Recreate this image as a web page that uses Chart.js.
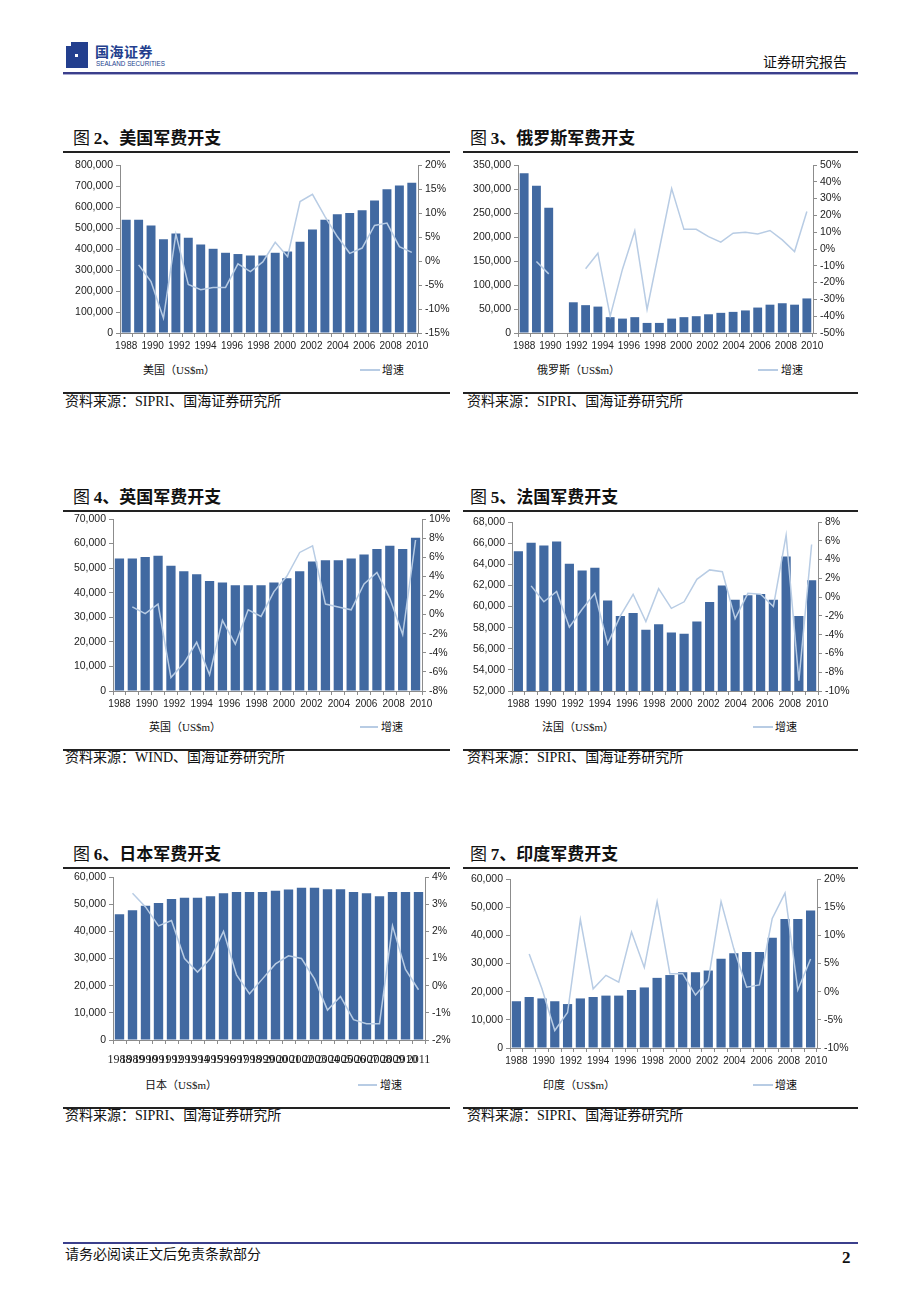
<!DOCTYPE html>
<html>
<head>
<meta charset="utf-8">
<script src="https://cdn.jsdelivr.net/npm/chart.js@4.4.1/dist/chart.umd.min.js"></script>
<style>
  html,body{margin:0;padding:0;background:#fff;}
  body{width:920px;height:1300px;position:relative;overflow:hidden;font-family:"Noto Sans CJK SC",sans-serif;color:#111;}
  .abs{position:absolute;white-space:nowrap;}
  .hline{position:absolute;height:2px;background:#222;}
  .title{font-size:17px;height:22px;line-height:22px;}
  .title b{font-weight:700;}
  .title .num{font-family:"Liberation Serif",serif;font-weight:700;}
  .src{font-family:"Liberation Serif","Noto Sans CJK SC",serif;font-size:14px;height:18px;line-height:18px;}
  .leg{font-family:"Liberation Serif","Noto Sans CJK SC",serif;font-size:11px;height:14px;line-height:14px;}
  .sw{position:absolute;height:2px;background:#b8cce4;}
  .box{position:absolute;}
</style>
</head>
<body>
<!-- header -->
<div class="abs" style="left:66px;top:42px;width:22px;height:26px;background:#233f8e;"></div>
<div class="abs" style="left:66px;top:42px;width:5px;height:4px;background:#fff;"></div>
<div class="abs" style="left:75px;top:54px;width:3px;height:3px;background:#fff;"></div>
<div class="abs" style="left:95px;top:42px;font-size:14px;font-weight:700;color:#233f8e;line-height:18px;letter-spacing:0.5px;">国海证券</div>
<div class="abs" style="left:96px;top:60px;font-family:'Liberation Sans',sans-serif;font-size:6.3px;color:#233f8e;line-height:8px;">SEALAND SECURITIES</div>
<div class="abs" style="left:763px;top:52px;font-size:14px;line-height:18px;">证券研究报告</div>
<div class="abs" style="left:63px;top:72px;width:795px;height:2px;background:#3b3f8c;"></div>
<div class="abs" style="left:63px;top:74px;width:795px;height:1px;background:#a9abd0;"></div>

<!-- footer -->
<div class="abs" style="left:63px;top:1242px;width:795px;height:2px;background:#3b3f8c;"></div>
<div class="abs" style="left:65px;top:1244px;font-size:14px;line-height:18px;">请务必阅读正文后免责条款部分</div>
<div class="abs" style="left:842px;top:1248px;font-family:'Liberation Serif',serif;font-size:17px;font-weight:700;line-height:20px;">2</div>

<!-- row 1 -->
<div class="abs title" style="left:73px;top:126px;">图 <b class="num">2</b><b>、美国军费开支</b></div>
<div class="hline" style="left:63px;top:151px;width:387px;"></div>
<div class="abs title" style="left:470px;top:126px;">图 <b class="num">3</b><b>、俄罗斯军费开支</b></div>
<div class="hline" style="left:463px;top:151px;width:395px;"></div>
<div class="box" style="left:63px;top:155px;width:388px;height:201px;"><canvas id="c-us"></canvas></div>
<div class="box" style="left:463px;top:155px;width:395px;height:201px;"><canvas id="c-ru"></canvas></div>
<div class="abs leg" style="left:143px;top:363px;">美国（US$m）</div>
<div class="sw" style="left:360px;top:369px;width:20px;"></div>
<div class="abs leg" style="left:382px;top:363px;">增速</div>
<div class="abs leg" style="left:537px;top:363px;">俄罗斯（US$m）</div>
<div class="sw" style="left:758px;top:369px;width:20px;"></div>
<div class="abs leg" style="left:781px;top:363px;">增速</div>
<div class="hline" style="left:63px;top:392px;width:387px;"></div>
<div class="hline" style="left:463px;top:392px;width:395px;"></div>
<div class="abs src" style="left:65px;top:393px;">资料来源：SIPRI、国海证券研究所</div>
<div class="abs src" style="left:467px;top:393px;">资料来源：SIPRI、国海证券研究所</div>

<!-- row 2 -->
<div class="abs title" style="left:73px;top:485px;">图 <b class="num">4</b><b>、英国军费开支</b></div>
<div class="hline" style="left:63px;top:510px;width:387px;"></div>
<div class="abs title" style="left:470px;top:485px;">图 <b class="num">5</b><b>、法国军费开支</b></div>
<div class="hline" style="left:463px;top:510px;width:395px;"></div>
<div class="box" style="left:63px;top:509px;width:388px;height:205px;"><canvas id="c-uk"></canvas></div>
<div class="box" style="left:463px;top:512px;width:395px;height:202px;"><canvas id="c-fr"></canvas></div>
<div class="abs leg" style="left:149px;top:720px;">英国（US$m）</div>
<div class="sw" style="left:360px;top:726px;width:18px;"></div>
<div class="abs leg" style="left:381px;top:720px;">增速</div>
<div class="abs leg" style="left:542px;top:720px;">法国（US$m）</div>
<div class="sw" style="left:753px;top:726px;width:20px;"></div>
<div class="abs leg" style="left:775px;top:720px;">增速</div>
<div class="hline" style="left:63px;top:749px;width:387px;"></div>
<div class="hline" style="left:463px;top:749px;width:395px;"></div>
<div class="abs src" style="left:65px;top:749px;">资料来源：WIND、国海证券研究所</div>
<div class="abs src" style="left:467px;top:749px;">资料来源：SIPRI、国海证券研究所</div>

<!-- row 3 -->
<div class="abs title" style="left:73px;top:842px;">图 <b class="num">6</b><b>、日本军费开支</b></div>
<div class="hline" style="left:63px;top:867px;width:387px;"></div>
<div class="abs title" style="left:470px;top:842px;">图 <b class="num">7</b><b>、印度军费开支</b></div>
<div class="hline" style="left:463px;top:867px;width:395px;"></div>
<div class="box" style="left:63px;top:867px;width:388px;height:199px;"><canvas id="c-jp"></canvas></div>
<div class="box" style="left:463px;top:869px;width:395px;height:202px;"><canvas id="c-in"></canvas></div>
<div class="abs leg" style="left:145px;top:1078px;">日本（US$m）</div>
<div class="sw" style="left:358px;top:1084px;width:19px;"></div>
<div class="abs leg" style="left:380px;top:1078px;">增速</div>
<div class="abs leg" style="left:543px;top:1078px;">印度（US$m）</div>
<div class="sw" style="left:753px;top:1084px;width:20px;"></div>
<div class="abs leg" style="left:775px;top:1078px;">增速</div>
<div class="hline" style="left:63px;top:1107px;width:387px;"></div>
<div class="hline" style="left:463px;top:1107px;width:395px;"></div>
<div class="abs src" style="left:65px;top:1107px;">资料来源：SIPRI、国海证券研究所</div>
<div class="abs src" style="left:467px;top:1107px;">资料来源：SIPRI、国海证券研究所</div>

<script>
// categories (24 bars) and the 12 year labels under the axis
const years = ['1988','1989','1990','1991','1992','1993','1994','1995','1996','1997','1998','1999',
               '2000','2001','2002','2003','2004','2005','2006','2007','2008','2009','2010','2011'];
const yearTicks = ['1988','1990','1992','1994','1996','1998','2000','2002','2004','2006','2008','2010'];

// 美国
const usSpend  = [539000,539000,512000,447000,474000,453000,422000,401000,382000,376000,369000,369000,
                  382000,388000,434000,493000,539000,566000,572000,585000,631000,685000,702000,715000];
const usGrowth = [null,-0.8,-4.3,-11.9,5.6,-4.9,-6.0,-5.5,-5.5,-0.6,-2.2,-0.2,
                  3.9,0.9,12.4,13.9,9.3,5.1,1.6,2.7,7.4,7.9,3.0,1.8];
// 俄罗斯
const ruSpend  = [333000,307000,261000,null,64000,58000,55000,33000,30000,33000,21000,21000,
                  30000,33000,35000,39000,42000,44000,47000,53000,59000,62000,59000,72000];
const ruGrowth = [null,-7.4,-14.8,null,null,-11.8,-2.5,-40,-12,10.8,-36,0,
                  36,11.7,11.7,7.4,4.1,9.4,10,9,11,5.4,-1.5,22.3];
// 英国
const ukSpend  = [53900,53900,54500,55000,51000,48700,47500,44800,44200,43000,43000,43000,
                  44200,45900,48700,52700,53200,53200,53900,55600,57800,59100,57800,62400];
const ukGrowth = [null,0.8,0.1,1.1,-6.6,-5.1,-2.9,-6.3,-0.6,-3.1,0.5,-0.2,
                  2.4,4.0,6.5,7.2,1.1,0.8,0.5,3.2,4.4,1.7,-2.1,7.8];
// 法国
const frSpend  = [65240,66040,65780,66160,64040,63410,63660,60560,59100,59380,57800,58310,
                  57550,57420,58590,60430,61980,60650,61060,61190,60650,64740,59100,62490];
const frGrowth = [null,1.2,-0.5,0.6,-3.2,-1.3,0.4,-5.0,-2.0,0.3,-2.6,0.9,
                  -1.2,-0.5,1.9,2.9,2.7,-2.3,0.4,0.3,-1.0,6.6,-8.9,5.6];
// 日本
const jpSpend  = [46300,47800,49400,50400,51900,52400,52400,52900,54000,54500,54500,54500,
                  54900,55400,56000,56000,55500,55500,54500,54000,52900,54500,54500,54500];
const jpGrowth = [null,3.4,2.9,2.2,2.4,1.0,0.5,1.0,2.0,0.4,-0.3,0.25,
                  0.8,1.1,1.0,0.25,-0.9,-0.4,-1.25,-1.4,-1.4,2.2,0.6,-0.15];
// 印度
const inSpend  = [16600,18100,17600,16600,15600,17600,18100,18600,18600,20600,21500,24900,
                  25900,26900,26900,27500,31700,33600,34100,34100,39100,45800,45800,48800];
const inGrowth = [null,6.7,0.5,-6.9,-3.7,12.8,0.5,2.9,1.7,10.6,4.3,16.0,
                  3.2,3.2,-0.6,2.0,16.0,7.6,0.8,1.2,13.0,17.5,0.3,5.8];

const barColor = '#4169a1';
const lineColor = '#b8cce4';
const axisColor = '#8c8c8c';
const tickFont = {family:'Liberation Sans', size:10.5};
const labelStep = 2.13; // year labels drift a little past the bars, as in the original

function makeChart(id, spend, growth, o){
  const scales = {
    y: {
      type:'linear', position:'left', min:o.yMin, max:o.yMax,
      ticks:{stepSize:o.yStep, font:tickFont, color:'#222', padding:3,
             callback:v=>v.toLocaleString('en-US')},
      grid:{drawOnChartArea:false, tickLength:4, color:axisColor},
      border:{color:axisColor},
      afterFit:s=>{ s.width = o.leftW; }
    },
    y1: {
      type:'linear', position:'right', min:o.pMin, max:o.pMax,
      ticks:{stepSize:o.pStep, font:tickFont, color:'#222', padding:3, callback:v=>v+'%'},
      grid:{drawOnChartArea:false, tickLength:4, color:axisColor},
      border:{color:axisColor},
      afterFit:s=>{ s.width = o.rightW; }
    }
  };
  if(o.allYears){
    scales.x = {
      type:'category', position:'bottom', offset:true,
      grid:{display:true, drawOnChartArea:false, offset:true, tickLength:4, color:axisColor},
      border:{color:axisColor},
      ticks:{autoSkip:false, maxRotation:0, minRotation:0, padding:9, color:'#222',
             font:{family:'Liberation Serif', size:12}},
      afterFit:s=>{ s.height = 26; }
    };
  } else {
    scales.x = {
      type:'category', position:'bottom', offset:true,
      grid:{display:true, drawOnChartArea:false, offset:true, tickLength:4, color:axisColor},
      border:{color:axisColor},
      ticks:{display:false},
      afterFit:s=>{ s.height = 4; }
    };
    scales.xl = {
      type:'linear', position:'bottom', weight:1, min:-0.5, max:years.length-0.5,
      grid:{display:false, drawTicks:false}, border:{display:false},
      afterBuildTicks:a=>{ a.ticks = yearTicks.map((t,k)=>({value:k*labelStep})); },
      ticks:{autoSkip:false, maxRotation:0, minRotation:0, padding:3, color:'#222',
             font:{family:'Liberation Sans', size:10}, callback:(v,i)=>yearTicks[i]},
      afterFit:s=>{ s.height = 19; }
    };
  }
  new Chart(document.getElementById(id), {
    data:{
      labels:years,
      datasets:[
        {type:'line', label:'增速', data:growth, yAxisID:'y1', borderColor:lineColor, borderWidth:1.5,
         pointRadius:0, tension:0, spanGaps:false, order:0},
        {type:'bar', label:'spend', data:spend, yAxisID:'y', backgroundColor:barColor,
         categoryPercentage:1, barPercentage:0.72, order:1}
      ]
    },
    options:{
      responsive:true, maintainAspectRatio:false, animation:false,
      layout:{padding:{top:o.padTop||10, left:0, right:0, bottom:0}},
      plugins:{legend:{display:false}, tooltip:{enabled:false}},
      scales
    }
  });
}

makeChart('c-us', usSpend, usGrowth, {yMin:0,yMax:800000,yStep:100000,pMin:-15,pMax:20,pStep:5,leftW:57,rightW:33});
makeChart('c-ru', ruSpend, ruGrowth, {yMin:0,yMax:350000,yStep:50000,pMin:-50,pMax:50,pStep:10,leftW:55,rightW:45});
makeChart('c-uk', ukSpend, ukGrowth, {yMin:0,yMax:70000,yStep:10000,pMin:-8,pMax:10,pStep:2,leftW:50,rightW:29});
makeChart('c-fr', frSpend, frGrowth, {yMin:52000,yMax:68000,yStep:2000,pMin:-10,pMax:8,pStep:2,leftW:49,rightW:40});
makeChart('c-jp', jpSpend, jpGrowth, {yMin:0,yMax:60000,yStep:10000,pMin:-2,pMax:4,pStep:1,leftW:50,rightW:26,allYears:true});
makeChart('c-in', inSpend, inGrowth, {yMin:0,yMax:60000,yStep:10000,pMin:-10,pMax:20,pStep:5,leftW:47,rightW:41});
</script>
</body>
</html>
